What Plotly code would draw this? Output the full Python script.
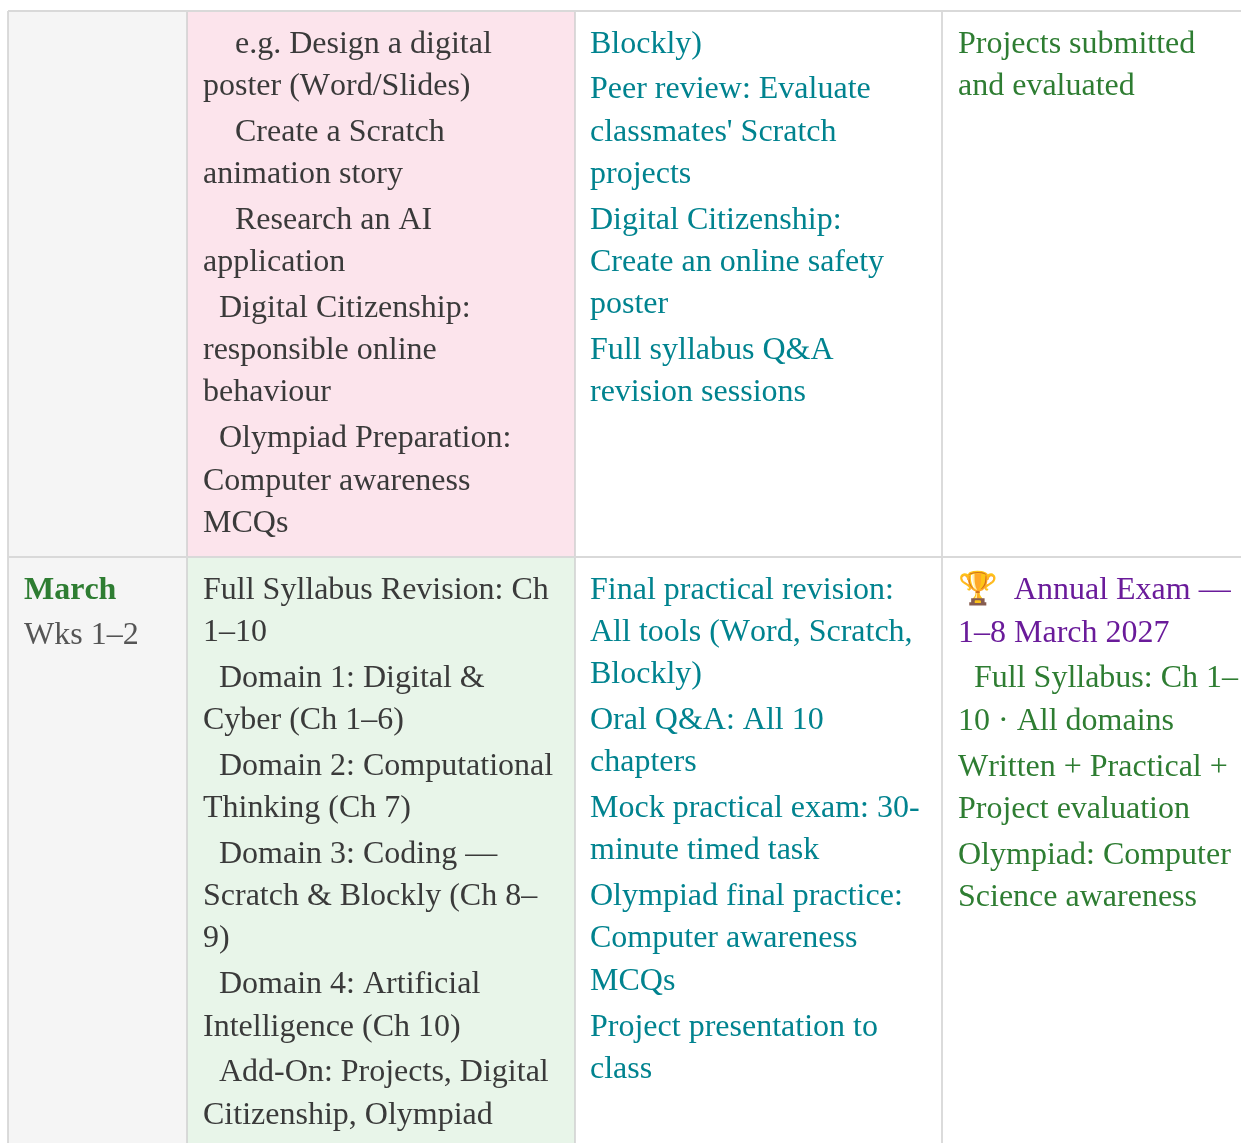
import plotly.graph_objects as go

NB = "\u00a0"
FONT = "Liberation Serif"

# Table content: row -> column -> paragraphs -> wrapped lines
row1_activity = [
    [NB*4 + "e.g. Design a digital", "poster (Word/Slides)"],
    [NB*4 + "Create a Scratch", "animation story"],
    [NB*4 + "Research an AI", "application"],
    [NB*2 + "Digital Citizenship:", "responsible online", "behaviour"],
    [NB*2 + "Olympiad Preparation:", "Computer awareness", "MCQs"],
]
row1_practical = [
    ["Blockly)"],
    ["Peer review: Evaluate", "classmates' Scratch", "projects"],
    ["Digital Citizenship:", "Create an online safety", "poster"],
    ["Full syllabus Q&A", "revision sessions"],
]
row1_assess = [["Projects submitted", "and evaluated"]]

row2_week_name = ["March"]
row2_week_range = ["Wks 1–2"]
row2_activity = [
    ["Full Syllabus Revision: Ch", "1–10"],
    [NB*2 + "Domain 1: Digital &", "Cyber (Ch 1–6)"],
    [NB*2 + "Domain 2: Computational", "Thinking (Ch 7)"],
    [NB*2 + "Domain 3: Coding —", "Scratch & Blockly (Ch 8–", "9)"],
    [NB*2 + "Domain 4: Artificial", "Intelligence (Ch 10)"],
    [NB*2 + "Add-On: Projects, Digital", "Citizenship, Olympiad"],
]
row2_practical = [
    ["Final practical revision:", "All tools (Word, Scratch,", "Blockly)"],
    ["Oral Q&A: All 10", "chapters"],
    ["Mock practical exam: 30-", "minute timed task"],
    ["Olympiad final practice:", "Computer awareness", "MCQs"],
    ["Project presentation to", "class"],
]
row2_exam_first = ["🏆" + NB*2 + "Annual Exam —"]
row2_exam_title = [["1–8 March 2027"]]
row2_assess = [
    [NB*2 + "Full Syllabus: Ch 1–", "10 · All domains"],
    ["Written + Practical +", "Project evaluation"],
    ["Olympiad: Computer", "Science awareness"],
]

COL_X = [8, 187, 575, 942]
TEXT_X = [22.8, 202.4, 589.4, 957.4]
ROW_Y = [11, 557]
W, H = 1241, 1143
LINE = 42.25
GAP = 3.6
SIZE = 32
TOP1, TOP2 = 41.6, 587.6

DARK, TEAL, GREEN, PURPLE, GREY = "#3a3a3a", "#00838f", "#2e7d32", "#6a1b9a", "#555555"

fig = go.Figure()
shapes = []
def rect(x0, y0, x1, y1, color):
    shapes.append(dict(type="rect", xref="x", yref="y", x0=x0, x1=x1, y0=y0, y1=y1,
                       fillcolor=color, line_width=0, layer="below"))
def hline(y):
    shapes.append(dict(type="line", xref="x", yref="y", x0=COL_X[0], x1=W, y0=y, y1=y,
                       line=dict(color="#d9d9d9", width=2), layer="below"))
def vline(x):
    shapes.append(dict(type="line", xref="x", yref="y", x0=x, x1=x, y0=ROW_Y[0], y1=H,
                       line=dict(color="#cfcfcf", width=1.5), layer="below"))

rect(COL_X[0], ROW_Y[0], COL_X[1], H, "#f5f5f5")
rect(COL_X[1], ROW_Y[0], COL_X[2], ROW_Y[1], "#fce4ec")
rect(COL_X[1], ROW_Y[1], COL_X[2], H, "#e8f5e9")
for x in COL_X:
    vline(x)
for y in ROW_Y:
    hline(y)

annotations = []
def put(x, y, text, color, bold=False):
    t = "<b>%s</b>" % text if bold else text
    annotations.append(dict(x=x, y=y, xref="x", yref="y", text=t, showarrow=False,
                            xanchor="left", yanchor="middle", align="left", borderpad=0,
                            font=dict(family=FONT + ", Noto Color Emoji, serif", size=SIZE, color=color)))

def block(col, y, paragraphs, color, gap=GAP):
    for para in paragraphs:
        for line in para:
            put(TEXT_X[col], y, line, color)
            y += LINE
        y += gap
    return y

block(1, TOP1, row1_activity, DARK)
block(2, TOP1, row1_practical, TEAL)
block(3, TOP1, row1_assess, GREEN)

put(TEXT_X[0], TOP2, row2_week_name[0], GREEN, bold=True)
put(TEXT_X[0], TOP2 + 45, row2_week_range[0], GREY)
block(1, TOP2, row2_activity, DARK)
block(2, TOP2, row2_practical, TEAL)
put(TEXT_X[3], TOP2, row2_exam_first[0], PURPLE)
y = block(3, TOP2 + 43.2, row2_exam_title, PURPLE)
block(3, y - 0.2, row2_assess, GREEN)

fig.update_layout(
    width=W, height=H, margin=dict(l=0, r=0, t=0, b=0, pad=0),
    paper_bgcolor="white", plot_bgcolor="white", showlegend=False,
    xaxis=dict(range=[0, W], visible=False, fixedrange=True),
    yaxis=dict(range=[H, 0], visible=False, fixedrange=True),
    shapes=shapes, annotations=annotations,
)
post = """
document.body.style.margin='0';document.body.style.overflow='hidden';
var s=document.createElement('style');
s.textContent='.main-svg text{font-kerning:none !important;text-rendering:optimizeSpeed !important;} .main-svg{will-change:transform;}';
document.head.appendChild(s);
"""
fig.write_html("out.html", config={"displayModeBar": False}, post_script=post)
